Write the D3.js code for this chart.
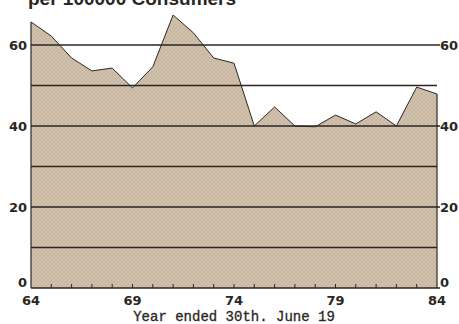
<!DOCTYPE html>
<html><head><meta charset="utf-8">
<script src="https://cdn.jsdelivr.net/npm/d3@7"></script>
<style>html,body{margin:0;padding:0;background:#fff;}svg{display:block;}</style>
</head><body>
<svg id="c" width="459" height="324"></svg>
<script>
const years = [64,65,66,67,68,69,70,71,72,73,74,75,76,77,78,79,80,81,82,83,84];
const values = [65.7,62.2,56.8,53.6,54.3,49.4,54.6,67.4,63,56.8,55.5,40,44.7,40,39.8,42.7,40.5,43.5,40,49.6,47.9];
const gridValues = [10,20,30,40,50,60];
const yTickLabels = [0,20,40,60];
const xTickLabels = [64,69,74,79,84];
const titleText = "per 100000 Consumers";
const xTitle = "Year ended 30th. June 19";

const svg = d3.select("#c");
const x = d3.scaleLinear().domain([64,84]).range([31,437]);
const y = d3.scaleLinear().domain([0,60]).range([288,45]);
const ink = "#2a2622";

const defs = svg.append("defs");
const pat = defs.append("pattern").attr("id","hatch").attr("patternUnits","userSpaceOnUse")
  .attr("width",4).attr("height",4);
pat.append("rect").attr("width",4).attr("height",4).attr("fill","#d3c3ae");
pat.append("path").attr("d","M0,4 L4,0 M-1,1 L1,-1 M3,5 L5,3").attr("stroke","#bfae98").attr("stroke-width",0.7);
pat.append("path").attr("d","M0,0 L4,4").attr("stroke","#c2b19b").attr("stroke-width",0.7);

const data = years.map((yr,i)=>({yr, v: values[i]}));
const area = d3.area().x(d=>x(d.yr)).y0(y(0)).y1(d=>y(d.v));
svg.append("path").datum(data).attr("d",area).attr("fill","url(#hatch)");

svg.selectAll("line.grid").data(gridValues).join("line")
  .attr("x1",x(64)).attr("x2",d=>yTickLabels.includes(d)?x(84)+3:x(84))
  .attr("y1",d=>y(d)).attr("y2",d=>y(d))
  .attr("stroke",ink).attr("stroke-width",1.4);

const line = d3.line().x(d=>x(d.yr)).y(d=>y(d.v));
svg.append("path").datum(data).attr("d",line).attr("fill","none").attr("stroke",ink).attr("stroke-width",1);
svg.append("line").attr("x1",x(64)).attr("x2",x(64)).attr("y1",y(values[0])).attr("y2",y(0)).attr("stroke",ink).attr("stroke-width",1.2);
svg.append("line").attr("x1",x(84)).attr("x2",x(84)).attr("y1",y(values[values.length-1])).attr("y2",y(0)).attr("stroke",ink).attr("stroke-width",1.2);
svg.append("line").attr("x1",x(64)).attr("x2",x(84)+3).attr("y1",y(0)).attr("y2",y(0)).attr("stroke",ink).attr("stroke-width",1.6);

svg.selectAll("line.tk").data(years.slice(1,-1)).join("line")
  .attr("x1",d=>x(d)).attr("x2",d=>x(d)).attr("y1",y(0)).attr("y2",y(0)-4)
  .attr("stroke",ink).attr("stroke-width",1);

const labelFont = "'DejaVu Sans', sans-serif";
const yLabelY = d => d === 0 ? y(0) - 1 : y(d) + 5;
svg.selectAll("text.yl").data(yTickLabels).join("text")
  .attr("x",27).attr("y",yLabelY).attr("text-anchor","end")
  .attr("font-family",labelFont).attr("font-weight","bold").attr("font-size",13).attr("fill",ink)
  .text(d=>d);
svg.selectAll("text.yr").data(yTickLabels).join("text")
  .attr("x",440).attr("y",yLabelY).attr("text-anchor","start")
  .attr("font-family",labelFont).attr("font-weight","bold").attr("font-size",13).attr("fill",ink)
  .text(d=>d);
svg.selectAll("text.xl").data(xTickLabels).join("text")
  .attr("x",d=>x(d)).attr("y",305).attr("text-anchor","middle")
  .attr("font-family",labelFont).attr("font-weight","bold").attr("font-size",13).attr("fill",ink)
  .text(d=>d);

svg.append("text").attr("x",234).attr("y",321).attr("text-anchor","middle")
  .attr("font-family","'Liberation Mono', monospace").attr("font-size",14).attr("fill",ink)
  .attr("stroke",ink).attr("stroke-width",0.3)
  .text(xTitle);

svg.append("text").attr("x",28).attr("y",5).attr("text-anchor","start")
  .attr("font-family","'Liberation Sans', sans-serif").attr("font-weight","bold").attr("font-size",19).attr("fill",ink)
  .text(titleText);
</script>
</body></html>
